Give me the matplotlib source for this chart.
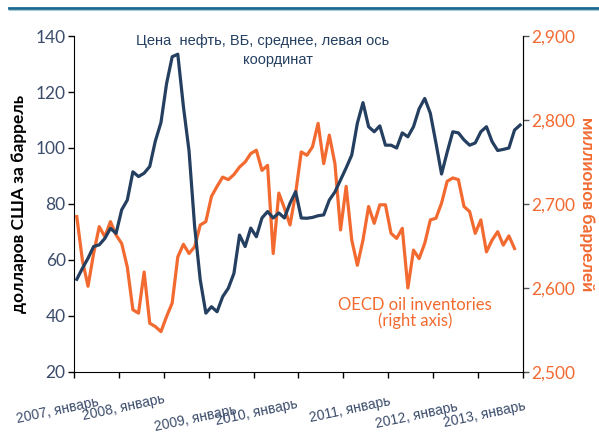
import matplotlib.pyplot as plt
import matplotlib.transforms as mtransforms
from matplotlib.lines import Line2D

# World Bank crude oil price, average, USD/bbl, monthly Jan 2007 - Aug 2013
oil_price = [53.1, 57.0, 60.6, 64.8, 65.4, 67.7, 71.3, 69.5, 77.9, 81.4, 91.5, 89.8,
             91.0, 93.4, 102.5, 109.1, 123.0, 132.6, 133.5, 114.8, 99.0, 72.0, 52.9, 41.0,
             43.3, 41.5, 46.9, 49.9, 55.2, 68.9, 64.8, 71.4, 68.3, 75.0, 77.3, 75.0,
             76.8, 75.0, 80.3, 84.4, 75.0, 74.9, 75.2, 75.8, 76.1, 81.4, 84.3, 88.6,
             92.9, 97.5, 108.9, 116.2, 107.6, 105.8, 107.9, 101.0, 101.0, 100.0, 105.4, 104.0,
             107.6, 114.0, 117.7, 112.4, 101.8, 90.7, 98.5, 105.8, 105.4, 102.9, 101.0, 101.8,
             105.8, 107.6, 102.3, 99.1, 99.5, 100.0, 106.4, 108.2]

# OECD oil inventories, million bbl, Jan 2007 - Jul 2013
oecd_stocks = [2685, 2633, 2602, 2641, 2673, 2661, 2679, 2663, 2653, 2625, 2574, 2570,
               2619, 2558, 2554, 2548, 2566, 2582, 2637, 2652, 2641, 2649, 2675, 2679,
               2709, 2721, 2732, 2729, 2735, 2744, 2750, 2760, 2764, 2740, 2746, 2641,
               2713, 2695, 2675, 2713, 2762, 2758, 2768, 2796, 2748, 2782, 2748, 2669,
               2721, 2657, 2627, 2657, 2697, 2677, 2699, 2699, 2665, 2659, 2671, 2600,
               2645, 2635, 2653, 2681, 2683, 2701, 2727, 2731, 2729, 2697, 2691, 2665,
               2681, 2643, 2657, 2667, 2651, 2662, 2647]

year_labels = ["2007, январь", "2008, январь", "2009, январь", "2010, январь",
               "2011, январь", "2012, январь", "2013, январь"]
label_x = [-3.5, 8.4, 21.1, 32.1, 48.7, 60.6, 72.7]
label_y = [-0.116, -0.107, -0.137, -0.122, -0.113, -0.128, -0.128]

navy = "#243F60"
orange = "#F26A30"
tick_navy = "#3B4C6B"

fig = plt.figure(figsize=(5.99, 4.34), dpi=100)
ax = fig.add_axes([0.1235, 0.143, 0.7495, 0.774])
ax2 = ax.twinx()

ax.plot(range(len(oil_price)), oil_price, color=navy, lw=2.3, solid_joinstyle="round", zorder=3)
ax2.plot(range(len(oecd_stocks)), oecd_stocks, color=orange, lw=2.3, solid_joinstyle="round")
ax.set_zorder(ax2.get_zorder() + 1)
ax.patch.set_visible(False)

ax.set_xlim(-0.5, 79.5)
ax.set_ylim(20, 140)
ax2.set_ylim(2500, 2900)
ax.set_yticks(range(20, 141, 20))
ax2.set_yticks(range(2500, 2901, 100))
ax2.set_yticklabels([f"{v:,}" for v in range(2500, 2901, 100)])

ax.set_xticks([-0.5 + 8 * k for k in range(11)])
ax.set_xticklabels([])
ax.tick_params(axis="x", direction="out", length=4, width=1)
ax.tick_params(axis="y", direction="out", length=4, width=1, labelsize=12.5,
               labelcolor=tick_navy, pad=2)
ax2.tick_params(axis="y", direction="out", length=4, width=1, labelsize=12.5,
                labelcolor=orange, pad=2, color="#555555")
for lab in ax.get_yticklabels() + ax2.get_yticklabels():
    lab.set_family("Lato")

for name in ["top"]:
    ax.spines[name].set_visible(False)
    ax2.spines[name].set_visible(False)
ax2.spines["right"].set_color("#555555")
ax2.spines["left"].set_visible(False)
ax2.spines["bottom"].set_visible(False)

ax.set_ylabel("долларов США за баррель", fontsize=12.5, fontweight="bold",
              family="Lato", labelpad=6, color="black")
ax2.set_ylabel("миллионов баррелей", fontsize=12.5, fontweight="bold", family="Lato",
               color=orange, rotation=270, labelpad=14)

trans = mtransforms.blended_transform_factory(ax.transData, ax.transAxes)
for txt, x, y in zip(year_labels, label_x, label_y):
    ax.text(x, y, txt, transform=trans, rotation=12, ha="center", va="center",
            fontsize=10, family="Liberation Sans", color=tick_navy, clip_on=False)

ax.text(0.42, 0.985, "Цена  нефть, ВБ, среднее, левая ось", transform=ax.transAxes,
        ha="center", va="center", fontsize=10.5, family="Liberation Sans", color=navy)
ax.text(0.455, 0.93, "координат", transform=ax.transAxes,
        ha="center", va="center", fontsize=10.5, family="Liberation Sans", color=navy)

ax2.text(0.76, 0.2, "OECD oil inventories", transform=ax.transAxes, ha="center",
         va="center", fontsize=12, family="Lato", color=orange)
ax2.text(0.76, 0.152, "(right axis)", transform=ax.transAxes, ha="center",
         va="center", fontsize=12, family="Lato", color=orange)

fig.add_artist(Line2D([0.015, 1.0], [0.981, 0.981], transform=fig.transFigure,
                      color="#1B6A8E", lw=2))
fig.add_artist(Line2D([0.015, 1.0], [0.976, 0.976], transform=fig.transFigure,
                      color="#A9CBD8", lw=0.8))

fig.savefig("out.png", dpi=100)
